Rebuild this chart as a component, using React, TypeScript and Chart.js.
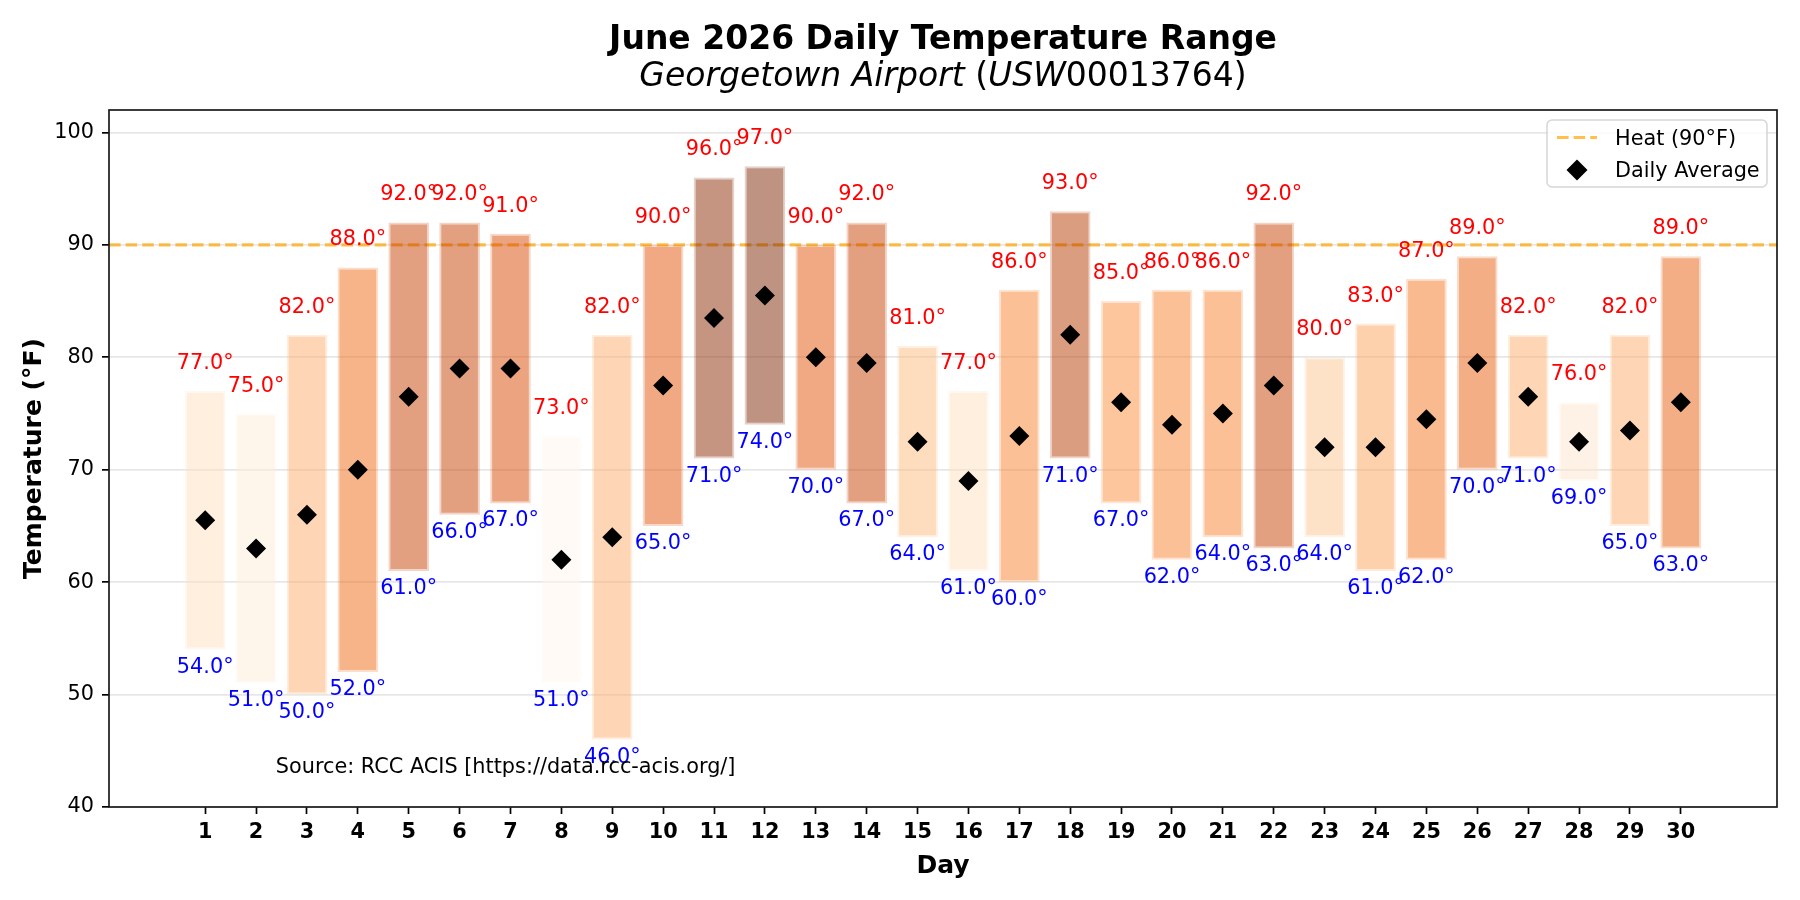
import { useEffect, useRef } from 'react';
import { Chart, registerables } from 'chart.js';

Chart.register(...registerables);

const DAYS = [1, 2, 3, 4, 5, 6, 7, 8, 9, 10, 11, 12, 13, 14, 15, 16, 17, 18, 19, 20, 21, 22, 23, 24, 25, 26, 27, 28, 29, 30];
const HIGHS = [77, 75, 82, 88, 92, 92, 91, 73, 82, 90, 96, 97, 90, 92, 81, 77, 86, 93, 85, 86, 86, 92, 80, 83, 87, 89, 82, 76, 82, 89];
const LOWS = [54, 51, 50, 52, 61, 66, 67, 51, 46, 65, 71, 74, 70, 67, 64, 61, 60, 71, 67, 62, 64, 63, 64, 61, 62, 70, 71, 69, 65, 63];
const AVERAGES = [65.5, 63, 66, 70, 76.5, 79, 79, 62, 64, 77.5, 83.5, 85.5, 80, 79.5, 72.5, 69, 73, 82, 76, 74, 75, 77.5, 72, 72, 74.5, 79.5, 76.5, 72.5, 73.5, 76];
const Y_TICKS = [40, 50, 60, 70, 80, 90, 100];
const HEAT_LIMIT = 90;

const FONT = '"DejaVu Sans", "Liberation Sans", sans-serif';

// matplotlib "Oranges" stops
const ORANGES = [
  [255, 245, 235],
  [254, 230, 206],
  [253, 208, 162],
  [253, 174, 107],
  [253, 141, 60],
  [241, 105, 19],
  [217, 72, 1],
  [166, 54, 3],
  [127, 39, 4],
];

function oranges(t: number) {
  const p = Math.max(0, Math.min(1, t)) * (ORANGES.length - 1);
  const i = Math.min(Math.floor(p), ORANGES.length - 2);
  const f = p - i;
  return ORANGES[i].map((c, k) => Math.round(c + (ORANGES[i + 1][k] - c) * f));
}

const hiMin = Math.min(...HIGHS);
const hiMax = Math.max(...HIGHS);
const barRgb = HIGHS.map((h) => oranges((h - hiMin) / (hiMax - hiMin)));

const overlay = {
  id: 'overlay',
  beforeDatasetsDraw(chart: any) {
    const { ctx, chartArea: a, scales } = chart;
    const py = scales.y.getPixelForValue(HEAT_LIMIT);
    ctx.save();
    ctx.strokeStyle = 'rgba(255,165,0,0.7)';
    ctx.lineWidth = 3.1;
    ctx.setLineDash([11.6, 5]);
    ctx.beginPath();
    ctx.moveTo(a.left, py);
    ctx.lineTo(a.right, py);
    ctx.stroke();
    ctx.restore();
  },
  afterDatasetsDraw(chart: any) {
    const { ctx, scales } = chart;
    ctx.save();
    ctx.font = `20.8px ${FONT}`;
    ctx.textAlign = 'center';
    ctx.textBaseline = 'alphabetic';
    DAYS.forEach((d, i) => {
      const px = scales.x.getPixelForValue(d);
      ctx.fillStyle = '#ff0000';
      ctx.fillText(`${HIGHS[i].toFixed(1)}°`, px, scales.y.getPixelForValue(HIGHS[i]) - 22);
      ctx.fillStyle = '#0000ff';
      ctx.fillText(`${LOWS[i].toFixed(1)}°`, px, scales.y.getPixelForValue(LOWS[i]) + 23);
    });
    ctx.restore();
  },
  afterDraw(chart: any) {
    const { ctx, chartArea: a } = chart;
    const cx = (a.left + a.right) / 2;
    ctx.save();

    // frame
    ctx.strokeStyle = '#1a1a1a';
    ctx.lineWidth = 1.7;
    ctx.strokeRect(a.left, a.top, a.right - a.left, a.bottom - a.top);

    ctx.fillStyle = '#000';
    ctx.textBaseline = 'alphabetic';

    // title
    ctx.textAlign = 'center';
    ctx.font = `bold 33px ${FONT}`;
    ctx.fillText('June 2026 Daily Temperature Range', cx, 49);

    // subtitle, mathtext style
    const parts: [string, boolean][] = [
      ['Georgetown Airport', true],
      [' (', false],
      ['USW', true],
      ['00013764)', false],
    ];
    const fontOf = (it: boolean) => `${it ? 'italic ' : ''}33px ${FONT}`;
    let total = 0;
    parts.forEach(([t, it]) => {
      ctx.font = fontOf(it);
      total += ctx.measureText(t).width;
    });
    let sx = cx - total / 2;
    ctx.textAlign = 'left';
    parts.forEach(([t, it]) => {
      ctx.font = fontOf(it);
      ctx.fillText(t, sx, 86);
      sx += ctx.measureText(t).width;
    });

    // axis titles
    ctx.textAlign = 'center';
    ctx.font = `bold 25px ${FONT}`;
    ctx.fillText('Day', cx, 873);
    ctx.save();
    ctx.translate(41, (a.top + a.bottom) / 2);
    ctx.rotate(-Math.PI / 2);
    ctx.fillText('Temperature (°F)', 0, 0);
    ctx.restore();

    // source note
    ctx.textAlign = 'left';
    ctx.font = `20.8px ${FONT}`;
    ctx.fillText('Source: RCC ACIS [https://data.rcc-acis.org/]', a.left + 0.1 * (a.right - a.left), 773);

    // legend
    const lx = 1547;
    const ly = 120;
    const lw = 220;
    const lh = 67;
    ctx.beginPath();
    ctx.roundRect(lx, ly, lw, lh, 5);
    ctx.fillStyle = 'rgba(255,255,255,0.8)';
    ctx.fill();
    ctx.strokeStyle = 'rgba(204,204,204,0.8)';
    ctx.lineWidth = 1.5;
    ctx.stroke();

    ctx.strokeStyle = 'rgba(255,165,0,0.7)';
    ctx.lineWidth = 3.1;
    ctx.setLineDash([11.6, 5]);
    ctx.beginPath();
    ctx.moveTo(lx + 10, 137.5);
    ctx.lineTo(lx + 50, 137.5);
    ctx.stroke();
    ctx.setLineDash([]);

    ctx.fillStyle = '#000';
    ctx.beginPath();
    const dx = lx + 30;
    const dy = 170;
    const r = 10.5;
    ctx.moveTo(dx - r, dy);
    ctx.lineTo(dx, dy - r);
    ctx.lineTo(dx + r, dy);
    ctx.lineTo(dx, dy + r);
    ctx.closePath();
    ctx.fill();

    ctx.font = `20.8px ${FONT}`;
    ctx.textAlign = 'left';
    ctx.fillText('Heat (90°F)', lx + 68, 145);
    ctx.fillText('Daily Average', lx + 68, 177);

    ctx.restore();
  },
};

export default function App() {
  const canvasRef = useRef<HTMLCanvasElement | null>(null);

  useEffect(() => {
    if (!canvasRef.current) return;
    Chart.defaults.font.family = FONT;
    Chart.defaults.color = '#000';

    const chart = new Chart(canvasRef.current, {
      type: 'bar',
      data: {
        datasets: [
          {
            type: 'scatter',
            label: 'Daily Average',
            data: DAYS.map((d, i) => ({ x: d, y: AVERAGES[i] })),
            pointStyle: 'rectRot',
            pointRadius: 10,
            pointHoverRadius: 10,
            backgroundColor: '#000',
            borderWidth: 0,
            order: 0,
          },
          {
            type: 'bar',
            label: 'Range',
            data: DAYS.map((d, i) => ({ x: d, y: [LOWS[i], HIGHS[i]] })),
            backgroundColor: barRgb.map((c) => `rgba(${c[0]},${c[1]},${c[2]},0.5)`),
            borderColor: barRgb.map((c) => `rgba(${c[0]},${c[1]},${c[2]},0.22)`),
            borderWidth: 2,
            borderSkipped: false,
            barPercentage: 0.8,
            categoryPercentage: 1.0,
            order: 1,
          } as any,
        ],
      },
      options: {
        animation: false,
        responsive: false,
        devicePixelRatio: 1,
        layout: { padding: { left: 0, top: 110, right: 23, bottom: 0 } },
        scales: {
          x: {
            type: 'linear',
            min: -0.89,
            max: 31.89,
            offset: false,
            afterBuildTicks: (scale: any) => {
              scale.ticks = DAYS.map((d) => ({ value: d }));
            },
            afterFit: (scale: any) => {
              scale.height = 93;
            },
            ticks: {
              callback: (v: any) => String(v),
              font: { size: 20.8, weight: 'bold' },
              padding: 6,
              maxRotation: 0,
              autoSkip: false,
            },
            grid: {
              offset: false,
              drawOnChartArea: false,
              tickColor: '#000',
              tickLength: 7,
              tickWidth: 1.7,
            },
            border: { display: false },
          },
          y: {
            type: 'linear',
            min: 40,
            max: 102,
            afterBuildTicks: (scale: any) => {
              scale.ticks = Y_TICKS.map((v) => ({ value: v }));
            },
            afterFit: (scale: any) => {
              scale.width = 109;
            },
            ticks: {
              font: { size: 20.8 },
              padding: 8,
            },
            grid: {
              color: 'rgba(176,176,176,0.3)',
              lineWidth: 1.7,
              tickColor: '#000',
              tickLength: 7,
              tickWidth: 1.7,
            },
            border: { display: false },
          },
        },
        plugins: {
          legend: { display: false },
          tooltip: { enabled: false },
          title: { display: false },
        },
      },
      plugins: [overlay],
    });

    return () => {
      chart.destroy();
    };
  }, []);

  return (
    <div style={{ position: 'fixed', left: 0, top: 0, width: 1800, height: 900, background: '#fff' }}>
      <canvas ref={canvasRef} width={1800} height={900} style={{ display: 'block' }} />
    </div>
  );
}
